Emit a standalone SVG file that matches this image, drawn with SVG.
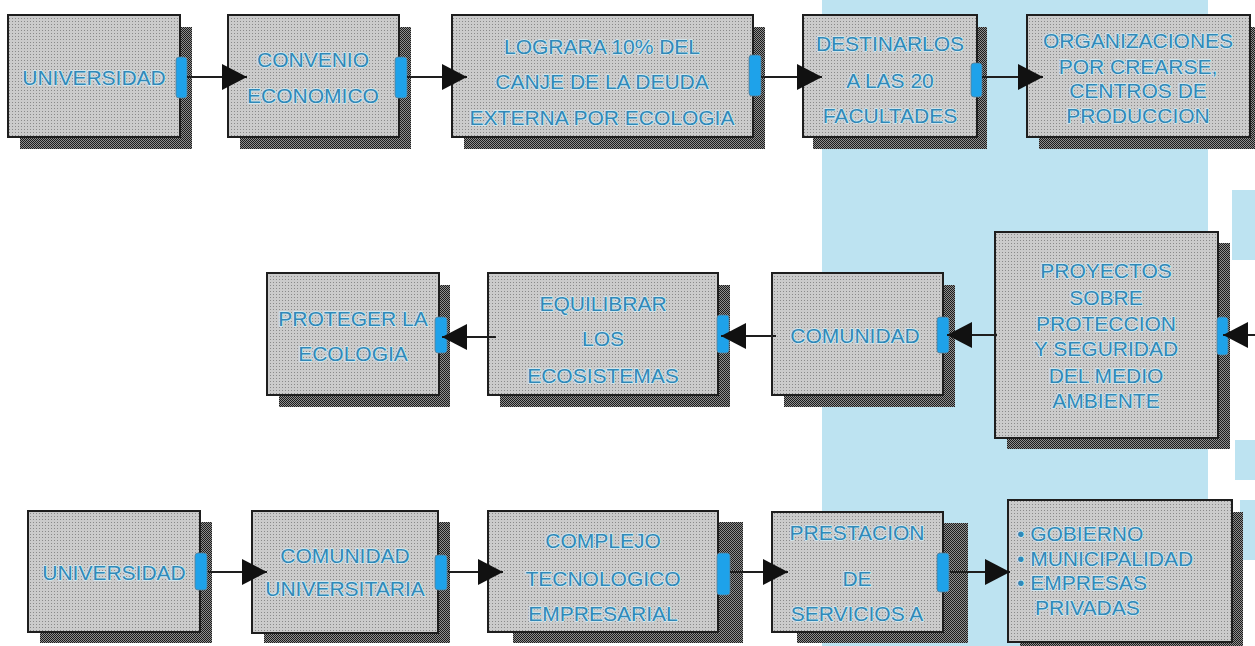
<svg xmlns="http://www.w3.org/2000/svg" width="1255" height="646" viewBox="0 0 1255 646">
<style>
.box{fill:url(#tex);stroke:#1e1e1e;stroke-width:2}
.sh{fill:url(#shd)}
.tab{fill:#1ea2ea;stroke:#5a7f95;stroke-width:0.8}
.t{font-family:"Liberation Sans",Arial,sans-serif;font-size:21px;fill:#3089b8;stroke:#d4ebf4;stroke-width:1.6;paint-order:stroke;stroke-linejoin:round;text-anchor:middle}
.tl{text-anchor:start}
.c{stroke:#1e1e1e;stroke-width:2;fill:none;marker-end:url(#ah)}
</style>
<defs>
<pattern id="tex" width="3" height="3" patternUnits="userSpaceOnUse">
<rect width="3" height="3" fill="#cbcbcb"/>
<rect width="1" height="1" fill="#8a8a8a"/>
</pattern>
<pattern id="shd" width="2" height="2" patternUnits="userSpaceOnUse">
<rect width="2" height="2" fill="#8e8e8e"/>
<rect width="1" height="1" fill="#1c1c1c"/>
<rect x="1" y="1" width="1" height="1" fill="#1c1c1c"/>
</pattern>
<marker id="ah" markerUnits="userSpaceOnUse" markerWidth="26" markerHeight="26" refX="25" refY="13" orient="auto">
<path d="M0,0 L25,13 L0,26 Z" fill="#111"/>
</marker>
</defs>
<rect width="1255" height="646" fill="#ffffff"/>
<g id="background">
<rect x="822" y="0" width="386" height="646" fill="#bde3f1"/>
<rect x="1232" y="190" width="23" height="70" fill="#bde3f1"/>
<rect x="1235" y="440" width="20" height="40" fill="#bde3f1"/>
<rect x="1240" y="500" width="15" height="60" fill="#bde3f1"/>
</g>
<g id="n1">
<rect class="sh" x="20" y="27" width="172" height="122"/>
<rect class="box" x="8" y="15" width="172" height="122"/>
<rect class="tab" x="176" y="57" width="11" height="41" rx="3"/>
<text class="t" x="94" y="84.5">UNIVERSIDAD</text>
</g>
<g id="n2">
<rect class="sh" x="240" y="27" width="171" height="122"/>
<rect class="box" x="228" y="15" width="171" height="122"/>
<rect class="tab" x="395" y="57" width="12" height="41" rx="3"/>
<text class="t" x="313" y="66.5">CONVENIO</text>
<text class="t" x="313" y="102.5">ECONOMICO</text>
</g>
<g id="n3">
<rect class="sh" x="464" y="27" width="301" height="122"/>
<rect class="box" x="452" y="15" width="301" height="122"/>
<rect class="tab" x="749" y="55" width="12" height="41" rx="3"/>
<text class="t" x="602" y="53.5">LOGRARA 10% DEL</text>
<text class="t" x="602" y="88.5">CANJE DE LA DEUDA</text>
<text class="t" x="602" y="124.5">EXTERNA POR ECOLOGIA</text>
</g>
<g id="n4">
<rect class="sh" x="813" y="27" width="174" height="122"/>
<rect class="box" x="803" y="15" width="174" height="122"/>
<rect class="tab" x="971" y="63" width="11" height="34" rx="3"/>
<text class="t" x="890" y="50.5">DESTINARLOS</text>
<text class="t" x="890" y="87.5">A LAS 20</text>
<text class="t" x="890" y="122.5">FACULTADES</text>
</g>
<g id="n5">
<rect class="sh" x="1039" y="27" width="223" height="122"/>
<rect class="box" x="1027" y="15" width="223" height="122"/>
<text class="t" x="1138" y="47.5">ORGANIZACIONES</text>
<text class="t" x="1138" y="73.5">POR CREARSE,</text>
<text class="t" x="1138" y="97.5">CENTROS DE</text>
<text class="t" x="1138" y="122.5">PRODUCCION</text>
</g>
<g id="n6">
<rect class="sh" x="1007" y="243" width="223" height="206"/>
<rect class="box" x="995" y="232" width="223" height="206"/>
<rect class="tab" x="1217" y="317" width="11" height="38" rx="3"/>
<text class="t" x="1106" y="277.5">PROYECTOS</text>
<text class="t" x="1106" y="304.5">SOBRE</text>
<text class="t" x="1106" y="330.5">PROTECCION</text>
<text class="t" x="1106" y="355.5">Y SEGURIDAD</text>
<text class="t" x="1106" y="382.5">DEL MEDIO</text>
<text class="t" x="1106" y="407.5">AMBIENTE</text>
</g>
<g id="n7">
<rect class="sh" x="784" y="285" width="171" height="122"/>
<rect class="box" x="772" y="273" width="171" height="122"/>
<rect class="tab" x="937" y="317" width="12" height="36" rx="3"/>
<text class="t" x="855" y="342.5">COMUNIDAD</text>
</g>
<g id="n8">
<rect class="sh" x="500" y="285" width="230" height="122"/>
<rect class="box" x="488" y="273" width="230" height="122"/>
<rect class="tab" x="717" y="315" width="12" height="38" rx="3"/>
<text class="t" x="603" y="310.5">EQUILIBRAR</text>
<text class="t" x="603" y="345.5">LOS</text>
<text class="t" x="603" y="382.5">ECOSISTEMAS</text>
</g>
<g id="n9">
<rect class="sh" x="279" y="285" width="171" height="122"/>
<rect class="box" x="267" y="273" width="172" height="122"/>
<rect class="tab" x="435" y="317" width="12" height="36" rx="3"/>
<text class="t" x="353" y="325.5">PROTEGER LA</text>
<text class="t" x="353" y="360.5">ECOLOGIA</text>
</g>
<g id="n10">
<rect class="sh" x="40" y="522" width="172" height="121"/>
<rect class="box" x="28" y="511" width="172" height="121"/>
<rect class="tab" x="195" y="553" width="12" height="37" rx="3"/>
<text class="t" x="114" y="579.5">UNIVERSIDAD</text>
</g>
<g id="n11">
<rect class="sh" x="264" y="522" width="186" height="121"/>
<rect class="box" x="252" y="511" width="186" height="122"/>
<rect class="tab" x="435" y="555" width="12" height="35" rx="3"/>
<text class="t" x="345" y="562.5">COMUNIDAD</text>
<text class="t" x="345" y="595.5">UNIVERSITARIA</text>
</g>
<g id="n12">
<rect class="sh" x="513" y="522" width="230" height="121"/>
<rect class="box" x="488" y="511" width="230" height="121"/>
<rect class="tab" x="717" y="553" width="13" height="42" rx="3"/>
<text class="t" x="603" y="547.5">COMPLEJO</text>
<text class="t" x="603" y="585.5">TECNOLOGICO</text>
<text class="t" x="603" y="620.5">EMPRESARIAL</text>
</g>
<g id="n13">
<rect class="sh" x="797" y="523" width="171" height="120"/>
<rect class="box" x="772" y="512" width="171" height="120"/>
<rect class="tab" x="937" y="553" width="12" height="39" rx="3"/>
<text class="t" x="857" y="539.5">PRESTACION</text>
<text class="t" x="857" y="585.5">DE</text>
<text class="t" x="857" y="620.5">SERVICIOS A</text>
</g>
<g id="n14">
<rect class="sh" x="1020" y="512" width="223" height="140"/>
<rect class="box" x="1008" y="500" width="224" height="142"/>
<text class="t tl" x="1017" y="540.5">• GOBIERNO</text>
<text class="t tl" x="1017" y="565.5">• MUNICIPALIDAD</text>
<text class="t tl" x="1017" y="589.5">• EMPRESAS</text>
<text class="t tl" x="1035" y="614.5">PRIVADAS</text>
</g>
<g id="connectors">
<line class="c" x1="187" y1="77" x2="247" y2="77"/>
<line class="c" x1="407" y1="77" x2="467" y2="77"/>
<line class="c" x1="761" y1="77" x2="822" y2="77"/>
<line class="c" x1="982" y1="77" x2="1043" y2="77"/>
<line class="c" x1="1255" y1="335" x2="1223" y2="335"/>
<line class="c" x1="997" y1="335" x2="947" y2="335"/>
<line class="c" x1="776" y1="336" x2="721" y2="336"/>
<line class="c" x1="496" y1="337" x2="442" y2="337"/>
<line class="c" x1="208" y1="572" x2="267" y2="572"/>
<line class="c" x1="448" y1="572" x2="503" y2="572"/>
<line class="c" x1="730" y1="572" x2="788" y2="572"/>
<line class="c" x1="950" y1="572" x2="1010" y2="572"/>
</g>
</svg>
